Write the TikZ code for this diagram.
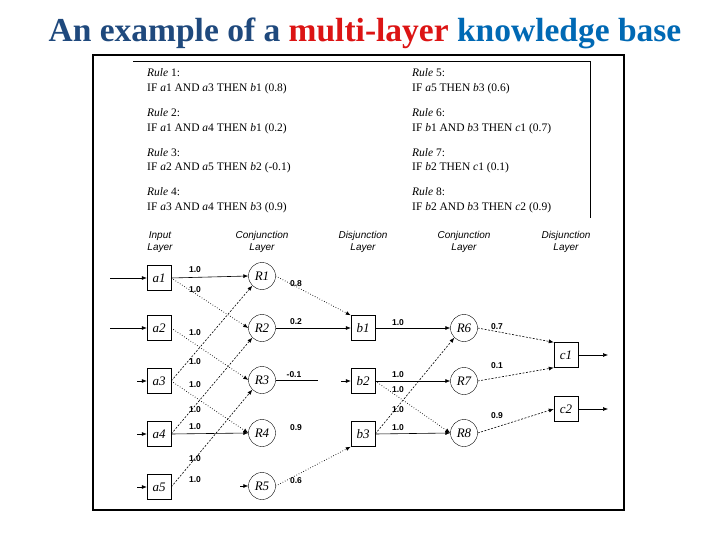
\documentclass[tikz,border=0pt]{standalone}
\usepackage{fontspec}
\setmainfont{Liberation Serif}
\setsansfont{Liberation Sans}
\usetikzlibrary{arrows.meta}
\definecolor{navy}{RGB}{31,73,125}
\definecolor{tred}{RGB}{220,20,20}
\definecolor{tblue}{RGB}{0,105,180}
\begin{document}
\begin{tikzpicture}[x=1pt,y=-1pt,
  bx/.style={draw,minimum width=24pt,minimum height=25pt,inner sep=0pt,font=\itshape\fontsize{13}{13}\selectfont},
  cr/.style={draw,circle,minimum size=27pt,inner sep=0pt,font=\itshape\fontsize{13}{13}\selectfont},
  hd/.style={align=center,font=\sffamily\itshape\fontsize{10}{12}\selectfont},
  wl/.style={font=\sffamily\bfseries\fontsize{8.5}{9}\selectfont,inner sep=0pt},
  rl/.style={anchor=west,font=\fontsize{11.5}{11.5}\selectfont,inner sep=0pt},
  ar/.style={-{Latex[length=5pt,width=4pt]},semithick},
  dt/.style={ar,dotted,thick},
  ds/.style={ar,dash pattern=on 2pt off 1.5pt}]
\useasboundingbox (0,0) rectangle (720,540);
\fill[white] (0,0) rectangle (720,540);
\node (title) at (365,33) {\fontsize{33.5}{36}\selectfont\bfseries\textcolor{navy}{An example of a} \textcolor{tred}{multi-layer} \textcolor{tblue}{knowledge base}};
\draw[line width=1.3pt] (93,55) rectangle (624,510);
\draw[thin] (133,61) -- (590,61) -- (590,218);
% rules
\foreach \y/\t in {73/{\textit{Rule} 1:},89/{IF \textit{a}1 AND \textit{a}3 THEN \textit{b}1 (0.8)},
  113/{\textit{Rule} 2:},129/{IF \textit{a}1 AND \textit{a}4 THEN \textit{b}1 (0.2)},
  153/{\textit{Rule} 3:},168/{IF \textit{a}2 AND \textit{a}5 THEN \textit{b}2 (-0.1)},
  192/{\textit{Rule} 4:},208/{IF \textit{a}3 AND \textit{a}4 THEN \textit{b}3 (0.9)}}
  \node[rl] at (147,\y) {\t};
\foreach \y/\t in {73/{\textit{Rule} 5:},89/{IF \textit{a}5 THEN \textit{b}3 (0.6)},
  113/{\textit{Rule} 6:},129/{IF \textit{b}1 AND \textit{b}3 THEN \textit{c}1 (0.7)},
  153/{\textit{Rule} 7:},168/{IF \textit{b}2 THEN \textit{c}1 (0.1)},
  192/{\textit{Rule} 8:},208/{IF \textit{b}2 AND \textit{b}3 THEN \textit{c}2 (0.9)}}
  \node[rl] at (412,\y) {\t};
% headers
\node[hd] (h1) at (160,242) {Input\\Layer};
\node[hd] (h2) at (262,242) {Conjunction\\Layer};
\node[hd] (h3) at (363,242) {Disjunction\\Layer};
\node[hd] (h4) at (464,242) {Conjunction\\Layer};
\node[hd] (h5) at (566,242) {Disjunction\\Layer};
% nodes
\foreach \i/\y in {1/278,2/328,3/381,4/434,5/487} \node[bx] (a\i) at (159,\y) {a\i};
\foreach \i/\y in {1/276,2/328,3/380,4/433,5/486} \node[cr] (R\i) at (262,\y) {R\i};
\foreach \i/\y in {1/328,2/381,3/434} \node[bx] (b\i) at (363,\y) {b\i};
\node[cr] (R6) at (464,328) {R6};
\node[cr] (R7) at (464,381) {R7};
\node[cr] (R8) at (464,433) {R8};
\node[bx] (c1) at (566,355) {c1};
\node[bx] (c2) at (566,409) {c2};
% inputs
\coordinate (i1) at (110,278); \coordinate (i2) at (110,328);
\coordinate (i3) at (137,381); \coordinate (i4) at (137,434); \coordinate (i5) at (137,487);
\coordinate (i6) at (240,486); \coordinate (i7) at (341,381);
\coordinate (r3e) at (318,380);
\coordinate (o1) at (608,355); \coordinate (o2) at (608,409);
\foreach \k in {1,...,5} \draw[ar] (i\k) -- (a\k.west);
\draw[ar] (i6) -- (R5.west);
\draw[ar] (i7) -- (b2.west);
% layer 1
\draw[ar] (a1.east) -- (R1.west);
\draw[dt] (a1.east) -- (R2.west);
\draw[dt] (a2.east) -- (R3.west);
\draw[ds] (a3.east) -- (R1.south west);
\draw[dt] (a3.east) -- (R4.west);
\draw[ds] (a4.east) -- (R2.south west);
\draw[ar] (a4.east) -- (R4.west);
\draw[ds] (a5.east) -- (R3.south west);
\foreach \x/\y in {195/270,195/290,195/333,195/362,195/385,195/410,195/427,195/459,195/480}
  \node[wl] at (\x,\y) {1.0};
% layer 2
\draw[dt] (R1.east) -- (b1.north west);
\draw[ar] (R2.east) -- (b1.west);
\draw[semithick] (R3.east) -- (r3e);
\draw[dt] (R5.east) -- (b3.south west);
\node[wl] at (296,284) {0.8};
\node[wl] at (296,322) {0.2};
\node[wl] at (294,375) {-0.1};
\node[wl] at (296,428) {0.9};
\node[wl] at (296,481) {0.6};
% layer 3
\draw[ar] (b1.east) -- (R6.west);
\draw[ar] (b2.east) -- (R7.west);
\draw[dt] (b2.east) -- (R8.west);
\draw[ds] (b3.east) -- (R6.south west);
\draw[ar] (b3.east) -- (R8.west);
\foreach \y in {323,375,390,410,428} \node[wl] at (398,\y) {1.0};
% layer 4
\draw[ds] (R6.east) -- (c1.north west);
\draw[ds] (R7.east) -- (c1.south west);
\draw[ds] (R8.east) -- (c2.west);
\node[wl] at (497,327) {0.7};
\node[wl] at (497,366) {0.1};
\node[wl] at (497,416) {0.9};
\draw[ar] (c1.east) -- (o1);
\draw[ar] (c2.east) -- (o2);
\end{tikzpicture}
\end{document}
